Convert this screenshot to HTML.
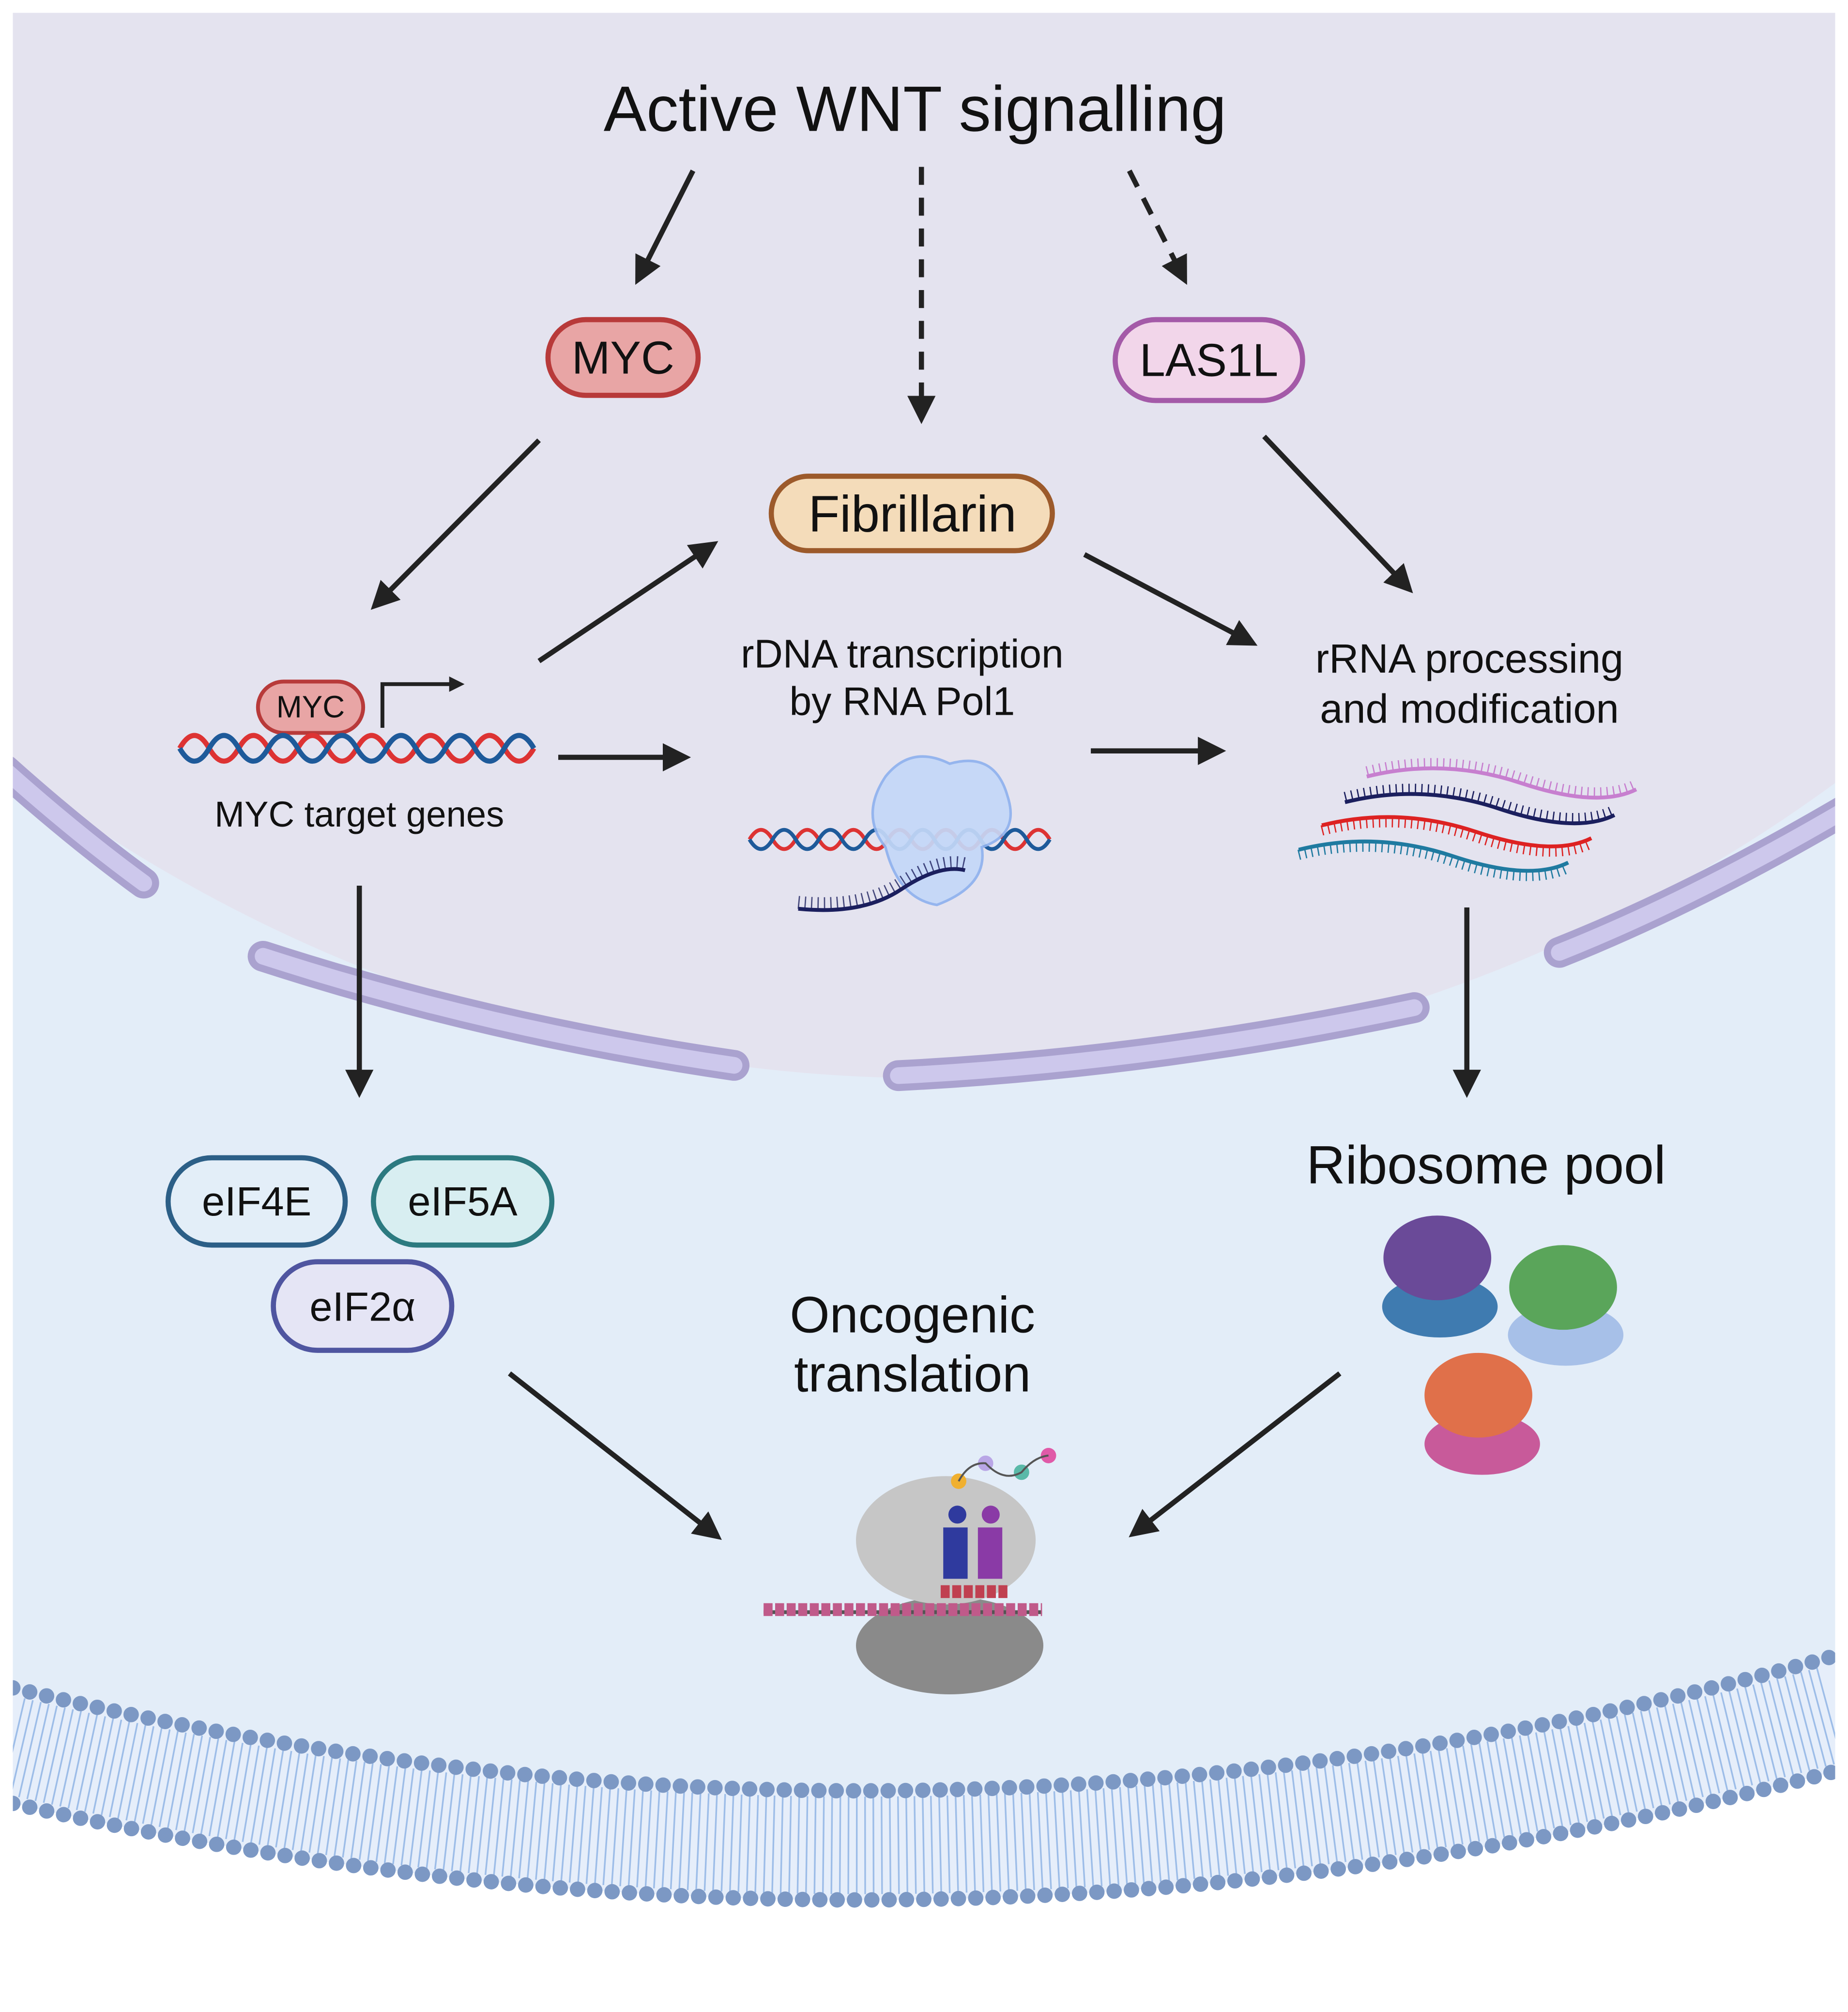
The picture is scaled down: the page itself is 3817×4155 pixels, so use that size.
<!DOCTYPE html>
<html><head><meta charset="utf-8"><style>html,body{margin:0;padding:0;background:#fff}svg{display:block}text{font-family:"Liberation Sans",sans-serif;fill:#111}</style></head>
<body>
<svg width="3817" height="4155" viewBox="0 0 1440 1567.5" preserveAspectRatio="none" xmlns="http://www.w3.org/2000/svg">
<defs>
<marker id="ah" viewBox="0 0 10 10" refX="8" refY="5" markerWidth="5.5" markerHeight="5.5" orient="auto" markerUnits="strokeWidth"><path d="M0,0 L10,5 L0,10 z" fill="#222"/></marker>
<clipPath id="fr"><rect x="10" y="10" width="1420" height="1540"/></clipPath>
</defs>
<g clip-path="url(#fr)">
<path d="M10,10 H1430 V1290 Q720,1487 10,1315 Z" fill="#e3edf8"/>
<path d="M10,1315 Q720,1487 1430,1290 L1430,1380 Q720,1567 10,1405 Z" fill="#e6eefa"/>
<path d="M10,1360 Q720,1527 1430,1335" fill="none" stroke="#9dbde8" stroke-width="76" stroke-dasharray="1.3 5.2"/>
<path d="M10,1315 Q720,1487 1430,1290" fill="none" stroke="#7c98c4" stroke-width="12" stroke-linecap="round" stroke-dasharray="0 13.5"/>
<path d="M10,1405 Q720,1567 1430,1380" fill="none" stroke="#7c98c4" stroke-width="12" stroke-linecap="round" stroke-dasharray="0 13.5"/>
<path d="M10,10 H1430 V610 A1190,1190 0 0 1 10,600 Z" fill="#e4e3ef"/>
<g fill="none" stroke-linecap="round">
<g stroke="#aaa2cf" stroke-width="24">
<path d="M4,600 Q60,650 112,688"/><path d="M205,745 Q381,802 572,830"/><path d="M700,838 Q899,828 1102,785"/><path d="M1215,742 Q1318,701 1436,632"/>
</g>
<g stroke="#cdc8ec" stroke-width="13">
<path d="M4,600 Q60,650 112,688"/><path d="M205,745 Q381,802 572,830"/><path d="M700,838 Q899,828 1102,785"/><path d="M1215,742 Q1318,701 1436,632"/>
</g>
</g>
</g>
<text x="713" y="102" font-size="50" text-anchor="middle">Active WNT signalling</text>
<g stroke="#222" stroke-width="4" fill="none" marker-end="url(#ah)">
<line x1="540" y1="133" x2="497" y2="218"/>
<line x1="718" y1="130" x2="718" y2="326" stroke-dasharray="14 10"/>
<line x1="880" y1="133" x2="923" y2="218" stroke-dasharray="14 10"/>
<line x1="420" y1="343" x2="292" y2="472"/>
<line x1="420" y1="515" x2="556" y2="424"/>
<line x1="435" y1="590" x2="534" y2="590"/>
<line x1="845" y1="432" x2="976" y2="501"/>
<line x1="985" y1="340" x2="1098" y2="459"/>
<line x1="850" y1="585" x2="951" y2="585"/>
<line x1="280" y1="690" x2="280" y2="851"/>
<line x1="1143" y1="707" x2="1143" y2="851"/>
<line x1="397" y1="1070" x2="559" y2="1197"/>
<line x1="1044" y1="1070" x2="883" y2="1195"/>
</g>
<rect x="427" y="249" width="117" height="59" rx="29.5" fill="#e8a5a5" stroke="#b83a3a" stroke-width="4"/>
<text x="485.5" y="291" font-size="36" text-anchor="middle">MYC</text>
<rect x="869" y="249" width="146" height="63" rx="31.5" fill="#f2d6ea" stroke="#a45aa8" stroke-width="4"/>
<text x="942" y="293" font-size="36" text-anchor="middle">LAS1L</text>
<rect x="601" y="371" width="219" height="58" rx="29" fill="#f4dcba" stroke="#9c5a2b" stroke-width="4"/>
<text x="711" y="414" font-size="40" text-anchor="middle">Fibrillarin</text>
<rect x="201" y="531" width="82" height="40" rx="20" fill="#e8a5a5" stroke="#b83a3a" stroke-width="3"/>
<text x="242" y="559" font-size="24" text-anchor="middle">MYC</text>
<path d="M298,567 V533 H352" fill="none" stroke="#222" stroke-width="3"/><path d="M350,527 L362,533 L350,539 z" fill="#222"/>
<path d="M140,583 q11.5,-20 23,0 t23,0 t23,0 t23,0 t23,0 t23,0 t23,0 t23,0 t23,0 t23,0 t23,0 t23,0" fill="none" stroke="#d33" stroke-width="4"/>
<path d="M140,583 q11.5,20 23,0 t23,0 t23,0 t23,0 t23,0 t23,0 t23,0 t23,0 t23,0 t23,0 t23,0 t23,0" fill="none" stroke="#1e5a9a" stroke-width="4"/>
<text x="280" y="644" font-size="28" text-anchor="middle">MYC target genes</text>
<text x="703" y="520" font-size="31" text-anchor="middle">rDNA transcription</text>
<text x="703" y="557" font-size="31" text-anchor="middle">by RNA Pol1</text>
<path d="M584,654 q9,-15 18,0 t18,0 t18,0 t18,0 t18,0 t18,0 t18,0 t18,0 t18,0 t18,0 t18,0 t18,0 t18,0" fill="none" stroke="#d33" stroke-width="3"/>
<path d="M584,654 q9,15 18,0 t18,0 t18,0 t18,0 t18,0 t18,0 t18,0 t18,0 t18,0 t18,0 t18,0 t18,0 t18,0" fill="none" stroke="#1e5a9a" stroke-width="3"/>
<path d="M690,605 q20,-25 50,-10 q35,-10 45,25 q10,30 -20,40 q5,30 -35,45 q-30,-5 -40,-45 q-20,-25 0,-55z" fill="#c4d8f8" stroke="#8fb2ee" stroke-width="2" opacity="0.92"/>
<path d="M622,708 q50,5 80,-15 t50,-15" fill="none" stroke="#1b1f5e" stroke-width="3"/>
<path d="M622,708 q50,5 80,-15 t50,-15" fill="none" stroke="#1b1f5e" stroke-width="10" stroke-dasharray="1 4" transform="translate(0,-5)" opacity="0.8"/>
<text x="1145" y="524" font-size="32" text-anchor="middle">rRNA processing</text>
<text x="1145" y="563" font-size="32" text-anchor="middle">and modification</text>
<g fill="none" stroke-width="3">
<path d="M1065,605 q60,-15 120,5 t90,5" stroke="#c77fcf"/>
<path d="M1048,625 q60,-15 120,5 t90,5" stroke="#1b1f5e"/>
<path d="M1030,643 q60,-15 120,5 t90,5" stroke="#d22"/>
<path d="M1012,662 q60,-15 120,5 t90,5" stroke="#1f7aa0"/>
</g>
<g fill="none" stroke-width="8" stroke-dasharray="1 4">
<path d="M1065,601 q60,-15 120,5 t90,5" stroke="#c77fcf"/>
<path d="M1048,621 q60,-15 120,5 t90,5" stroke="#1b1f5e"/>
<path d="M1030,647 q60,-15 120,5 t90,5" stroke="#d22"/>
<path d="M1012,666 q60,-15 120,5 t90,5" stroke="#1f7aa0"/>
</g>
<rect x="131" y="902" width="138" height="68" rx="34" fill="#e3eef8" stroke="#2c5f87" stroke-width="4"/>
<text x="200" y="947" font-size="32" text-anchor="middle">eIF4E</text>
<rect x="291" y="902" width="139" height="68" rx="34" fill="#d8eef1" stroke="#2c7a80" stroke-width="4"/>
<text x="360.5" y="947" font-size="32" text-anchor="middle">eIF5A</text>
<rect x="213" y="983" width="139" height="69" rx="34.5" fill="#e5e5f5" stroke="#4f55a0" stroke-width="4"/>
<text x="282.5" y="1029" font-size="32" text-anchor="middle">eIF2α</text>
<text x="1158" y="922" font-size="42" text-anchor="middle">Ribosome pool</text>
<g>
<ellipse cx="1122" cy="1018" rx="45" ry="24" fill="#3f7bb0"/>
<ellipse cx="1120" cy="980" rx="42" ry="33" fill="#6a4a98"/>
<ellipse cx="1220" cy="1040" rx="45" ry="24" fill="#a7c0e8"/>
<ellipse cx="1218" cy="1003" rx="42" ry="33" fill="#5aa55a"/>
<ellipse cx="1155" cy="1125" rx="45" ry="24" fill="#c85a9a"/>
<ellipse cx="1152" cy="1087" rx="42" ry="33" fill="#e0704a"/>
</g>
<text x="711" y="1038" font-size="40" text-anchor="middle">Oncogenic</text>
<text x="711" y="1084" font-size="40" text-anchor="middle">translation</text>
<ellipse cx="740" cy="1282" rx="73" ry="38" fill="#8a8a8a"/>
<ellipse cx="737" cy="1200" rx="70" ry="50" fill="#c6c6c6"/>
<rect x="735" y="1190" width="19" height="40" fill="#2f3a9e"/><rect x="762" y="1190" width="19" height="40" fill="#8a3aa6"/>
<circle cx="746" cy="1180" r="7" fill="#2f3a9e"/><circle cx="772" cy="1180" r="7" fill="#8a3aa6"/>
<circle cx="747" cy="1154" r="6" fill="#f0b030"/><circle cx="768" cy="1140" r="6" fill="#b9a6e6"/><circle cx="796" cy="1147" r="6" fill="#5ab9a8"/><circle cx="817" cy="1134" r="6" fill="#e05aa8"/>
<path d="M747,1154 q8,-15 21,-14 q14,15 28,7 q10,-12 21,-13" fill="none" stroke="#555" stroke-width="1.5"/>
<line x1="595" y1="1256" x2="812" y2="1256" stroke="#555" stroke-width="3"/>
<path d="M595,1254 h217" stroke="#c05a8a" stroke-width="10" stroke-dasharray="7 2"/>
<path d="M733,1240 h53" stroke="#c04050" stroke-width="10" stroke-dasharray="7 2"/>
</svg>
</body></html>
